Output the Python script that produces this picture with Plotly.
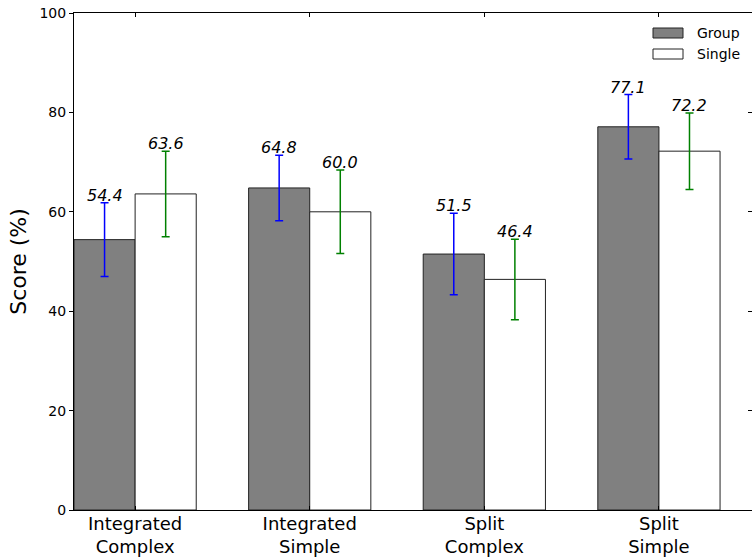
import numpy as np
import plotly.graph_objects as go

categories = ["Integrated<br>Complex", "Integrated<br>Simple", "Split<br>Complex", "Split<br>Simple"]
group_scores = [54.4, 64.8, 51.5, 77.1]
single_scores = [63.6, 60.0, 46.4, 72.2]
group_err = [7.4, 6.6, 8.2, 6.5]
single_err = [8.6, 8.4, 8.1, 7.7]
y_ticks = [0, 20, 40, 60, 80, 100]

W, H = 752, 557
L, R, T, B = 74, 0, 13, 47
FONT = "DejaVu Sans"
bw = 0.35
idx = np.arange(len(categories))
xg = idx + bw / 2
xs = idx + bw * 1.5
xt = idx + bw

fig = go.Figure()
fig.add_trace(go.Bar(
    x=xg, y=group_scores, width=bw, name="Group",
    marker=dict(color="#808080", line=dict(color="#222222", width=1)),
    error_y=dict(type="data", array=group_err, color="#0000ff", thickness=1.5, width=4),
))
fig.add_trace(go.Bar(
    x=xs, y=single_scores, width=bw, name="Single",
    marker=dict(color="#ffffff", line=dict(color="#222222", width=1)),
    error_y=dict(type="data", array=single_err, color="#008000", thickness=1.5, width=4),
))
# invisible trace for right-side ticks
fig.add_trace(go.Scatter(x=[0], y=[0], yaxis="y2", mode="markers",
                         marker=dict(opacity=0), showlegend=False, hoverinfo="skip"))

for xv, v, e in zip(list(xg) + list(xs), group_scores + single_scores, group_err + single_err):
    fig.add_annotation(x=xv, y=v + e, text=f"<i>{v:.1f}</i>", showarrow=False,
                       xanchor="center", yanchor="bottom", yshift=-4,
                       font=dict(family=FONT, size=16, color="black"))

# manual legend
pw = W - L - R
ph = H - T - B
def px(xp):
    return (xp - L) / pw
def py(yp):
    return (H - B - yp) / ph
for (y0, y1, col, lab) in [(28, 38, "#808080", "Group"), (49, 59, "#ffffff", "Single")]:
    fig.add_shape(type="rect", xref="paper", yref="paper",
                  x0=px(653), x1=px(683), y0=py(y1), y1=py(y0),
                  fillcolor=col, line=dict(color="#222222", width=1))
    fig.add_annotation(xref="paper", yref="paper", x=px(695), y=py((y0 + y1) / 2),
                       text=lab, showarrow=False, xanchor="left", yanchor="middle",
                       font=dict(family=FONT, size=14, color="black"))

fig.update_layout(
    width=W, height=H,
    margin=dict(l=L, r=R, t=T, b=B, pad=0, autoexpand=False),
    paper_bgcolor="white", plot_bgcolor="white",
    barmode="overlay", showlegend=False,
    font=dict(family=FONT, color="black"),
    xaxis=dict(range=[0, 3.883], tickvals=xt, ticktext=categories, automargin=False,
               ticks="inside", ticklen=4, tickcolor="black", mirror="ticks", ticklabelstandoff=-3,
               showline=True, linecolor="black", linewidth=1, showgrid=False, zeroline=False,
               tickfont=dict(family=FONT, size=18, color="black")),
    yaxis=dict(range=[0, 100], tickvals=y_ticks, ticks="outside", ticklen=4, tickcolor="black",
               automargin=False,
               showline=True, linecolor="black", linewidth=1, showgrid=False, zeroline=False,
               tickfont=dict(family=FONT, size=14, color="black"),
               title=dict(text="Score (%)", font=dict(family=FONT, size=22, color="black"), standoff=6)),
    yaxis2=dict(range=[0, 100], tickvals=y_ticks, overlaying="y", side="right", anchor="x",
                ticks="inside", ticklen=4, tickcolor="black", showticklabels=False, automargin=False,
                showline=False, showgrid=False, zeroline=False),
)

fig.write_html("out.html", config={"displayModeBar": False},
               post_script="document.body.style.margin='0';document.body.style.overflow='hidden';")
